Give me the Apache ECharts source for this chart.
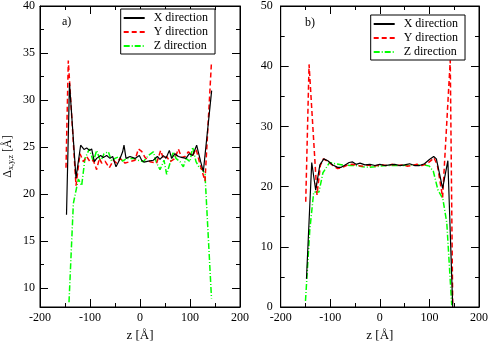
<!DOCTYPE html>
<html>
<head>
<meta charset="utf-8">
<script src="https://cdn.jsdelivr.net/npm/echarts@6/dist/echarts.min.js"></script>
<style>
html,body{margin:0;padding:0;background:#fff;}
#chart{width:491px;height:347px;}
</style>
</head>
<body>
<div id="chart"></div>
<script>
// ---------- data ----------
var seriesNames = ['X direction', 'Y direction', 'Z direction'];
var panelLabels = ['a)', 'b)'];
var xTicks = [-200, -100, 0, 100, 200];
var yTicksA = [10, 15, 20, 25, 30, 35, 40];
var yMinorA = [12.5, 17.5, 22.5, 27.5, 32.5, 37.5];

// panel a
var xDirA_z = [-147, -141, -128, -118.7, -112, -106.7, -101, -96.7, -91.3, -86.7, -78.7, -73.3, -66.7, -60, -54.7, -48, -41.3, -34.7, -32, -28, -20, -10, -1.3, 3.3, 8, 16.7, 26.7, 34.7, 40, 46.7, 52, 58.7, 63.3, 70, 76.7, 83.3, 92, 98.7, 105.3, 113.3, 121.3, 126.7, 143.3];
var xDirA_v = [17.8, 31.8, 21.7, 25.2, 24.75, 24.9, 24.65, 24.8, 23.45, 23.8, 24.1, 23.9, 24.1, 23.8, 24.0, 22.9, 23.6, 24.5, 25.2, 23.8, 24.0, 23.8, 24.1, 23.6, 23.4, 23.5, 23.6, 24.0, 23.7, 24.1, 23.8, 24.65, 23.8, 24.3, 24.0, 23.9, 23.8, 24.3, 24.1, 25.2, 23.45, 22.4, 31.0];
var yDirA_z = [-148, -143.4, -128, -120, -113.3, -106.7, -100, -93.3, -86.7, -81.3, -76.7, -70, -61.3, -53.3, -46.7, -40, -30, -20, -10, -3.3, 3.3, 10, 20, 33.3, 41.3, 46.7, 53.3, 60, 70, 76.7, 83.3, 90, 96.7, 105.3, 112, 118.7, 130, 143];
var yDirA_v = [22.8, 34.2, 20.9, 24.3, 23.45, 24.0, 23.45, 23.6, 22.6, 23.8, 23.3, 23.5, 22.8, 23.6, 23.3, 23.8, 23.3, 23.45, 23.6, 24.8, 24.55, 23.9, 23.45, 23.3, 24.65, 23.8, 24.0, 23.45, 23.8, 24.8, 23.9, 24.0, 24.5, 24.1, 24.8, 23.45, 21.4, 34.1];
var zDirA_z = [-142, -133.3, -123.3, -116.7, -110, -101.3, -93.3, -86.7, -78.7, -72, -63.3, -56.7, -50, -41.3, -34.7, -26.7, -13.3, -3.3, 6.7, 16.7, 26.7, 33.3, 40, 48, 53.3, 60, 66.7, 72, 80, 86.7, 92, 100, 105.3, 112, 118.7, 125.3, 130, 143];
var zDirA_v = [8.5, 19.0, 21.6, 20.9, 23.8, 24.8, 23.45, 24.65, 23.45, 24.3, 24.5, 23.5, 23.8, 24.0, 23.5, 23.8, 23.8, 23.6, 23.45, 24.1, 24.5, 23.3, 22.6, 23.6, 22.1, 23.3, 24.5, 23.8, 23.45, 22.9, 23.8, 23.45, 25.0, 23.45, 22.8, 22.6, 22.1, 8.9];

// panel b
var xDirB_z = [-148, -137.4, -129.4, -121, -113, -105, -95, -85, -78, -70, -62, -55, -48, -40, -30, -20, -10, 0, 10, 20, 30, 40, 50, 60, 70, 80, 90, 100, 108.6, 114, 120, 126.6, 137.2, 147];
var xDirB_v = [4.7, 24.0, 19.4, 23.6, 24.6, 24.3, 23.6, 23.2, 23.2, 23.6, 24.0, 24.1, 23.7, 23.9, 23.6, 23.7, 23.5, 23.7, 23.5, 23.6, 23.7, 23.5, 23.6, 23.8, 23.5, 23.5, 23.8, 24.5, 25.0, 24.6, 22.3, 19.7, 24.3, 0.0];
var yDirB_z = [-149.5, -142.8, -126.8, -120, -114, -105, -95, -85, -75, -65, -55, -45, -35, -25, -15, -5, 5, 15, 25, 35, 45, 55, 65, 75, 85, 95, 103, 109, 116, 126.6, 142, 147];
var yDirB_v = [17.5, 40.3, 18.6, 23.5, 24.6, 24.2, 23.5, 23.0, 23.2, 23.6, 23.7, 23.5, 23.4, 23.6, 23.4, 23.5, 23.6, 23.5, 23.7, 23.5, 23.6, 23.4, 23.5, 23.7, 23.5, 23.8, 24.3, 24.8, 23.6, 18.2, 41.0, 0.0];
var zDirB_z = [-150, -141.4, -133.4, -122.8, -114.8, -101.4, -90, -75, -60, -48, -35, -21.4, -10, 0, 15, 30, 45, 60, 75, 90, 100, 108, 117, 127, 135, 145];
var zDirB_v = [1.0, 12.7, 19.1, 19.1, 22.3, 24.0, 23.8, 23.6, 23.5, 23.5, 23.3, 23.2, 23.3, 23.4, 23.5, 23.5, 23.5, 23.6, 23.6, 23.6, 23.4, 22.5, 19.5, 18.0, 14.0, 0.3];

// ---------- chart ----------
function pairs(zs, vs) { return zs.map(function (z, i) { return [z, vs[i]]; }); }
var FONT = 'Liberation Serif';
var colors = ['#000000', '#ff0000', '#00ff00'];
var lineTypes = ['solid', [5, 3], [6, 2, 1, 2]];
var widths = [1.2, 1.5, 1.5];

var grids = [
  { left: 40, top: 6, width: 200, height: 309 },
  { left: 280.7, top: 6, width: 200, height: 309 }
];
grids.forEach(function (g) { g.show = true; g.borderColor = '#000'; g.borderWidth = 1; g.backgroundColor = 'transparent'; });

function xAx(gi, top) {
  return {
    type: 'value', gridIndex: gi, position: top ? 'top' : 'bottom',
    min: xTicks[0], max: xTicks[xTicks.length - 1], interval: 100,
    axisLine: { show: true, onZero: false, lineStyle: { color: '#000', width: 1 } },
    axisTick: { show: true, inside: true, length: 8, lineStyle: { color: '#000' } },
    minorTick: { show: true, splitNumber: 2, length: 4, lineStyle: { color: '#000' } },
    axisLabel: { show: !top, margin: 5, color: '#000', fontFamily: FONT, fontSize: 12 },
    splitLine: { show: false },
    name: top ? '' : 'z [Å]', nameLocation: 'middle', nameGap: 22,
    nameTextStyle: { color: '#000', fontFamily: FONT, fontSize: 13 }
  };
}
function yAxA(right, minor) {
  return {
    type: 'value', gridIndex: 0, position: right ? 'right' : 'left',
    min: 8, max: 40,
    axisLine: { show: !minor, onZero: false, lineStyle: { color: '#000', width: 1 } },
    axisTick: { show: true, inside: true, length: minor ? 4 : 8, customValues: minor ? yMinorA : yTicksA, lineStyle: { color: '#000' } },
    axisLabel: { show: !right && !minor, customValues: yTicksA, margin: 5, color: '#000', fontFamily: FONT, fontSize: 12 },
    splitLine: { show: false },
    name: (!right && !minor) ? '{a|Δ}{s|x,y,z}{a| [Å]}' : '',
    nameLocation: 'middle', nameRotate: 90, nameGap: 25,
    nameTextStyle: {
      rich: {
        a: { fontFamily: FONT, fontSize: 12, color: '#000' },
        s: { fontFamily: FONT, fontSize: 8, color: '#000', padding: [6, 0, 0, 0] }
      }
    }
  };
}
function yAxB(right) {
  return {
    type: 'value', gridIndex: 1, position: right ? 'right' : 'left',
    min: 0, max: 50, interval: 10,
    axisLine: { show: true, onZero: false, lineStyle: { color: '#000', width: 1 } },
    axisTick: { show: true, inside: true, length: 8, lineStyle: { color: '#000' } },
    minorTick: { show: true, splitNumber: 2, length: 4, lineStyle: { color: '#000' } },
    axisLabel: { show: !right, margin: 8, color: '#000', fontFamily: FONT, fontSize: 12 },
    splitLine: { show: false }
  };
}

var dataSets = [
  [pairs(xDirA_z, xDirA_v), pairs(yDirA_z, yDirA_v), pairs(zDirA_z, zDirA_v)],
  [pairs(xDirB_z, xDirB_v), pairs(yDirB_z, yDirB_v), pairs(zDirB_z, zDirB_v)]
];
var series = [];
var yIdx = [0, 4];
var xIdx = [0, 2];
[0, 1].forEach(function (p) {
  [0, 1, 2].forEach(function (k) {
    series.push({
      type: 'line', name: seriesNames[k],
      xAxisIndex: xIdx[p], yAxisIndex: yIdx[p],
      data: dataSets[p][k],
      symbol: 'none', showSymbol: false, silent: true,
      lineStyle: { color: colors[k], width: widths[k], type: lineTypes[k] },
      itemStyle: { color: colors[k] },
      z: 3 - k
    });
  });
});

function legendAt(left, top) {
  return {
    left: left, top: top, orient: 'vertical', data: seriesNames,
    backgroundColor: '#fff', borderColor: '#000', borderWidth: 1, borderRadius: 0,
    padding: [3, 7, 2, 2], itemWidth: 21, itemHeight: 10, itemGap: 2,
    selectedMode: false,
    itemStyle: { opacity: 0 },
    textStyle: { color: '#000', fontFamily: FONT, fontSize: 12, padding: [0, 0, 0, 4], lineHeight: 12 }
  };
}

var chart = echarts.init(document.getElementById('chart'), null, { renderer: 'canvas' });
chart.setOption({
  animation: false,
  backgroundColor: '#fff',
  title: [
    { text: panelLabels[0], left: 62, top: 16, textStyle: { fontFamily: FONT, fontSize: 12, fontWeight: 'normal', color: '#000' }, padding: 0 },
    { text: panelLabels[1], left: 305, top: 17, textStyle: { fontFamily: FONT, fontSize: 12, fontWeight: 'normal', color: '#000' }, padding: 0 }
  ],
  grid: grids,
  legend: [legendAt(120.7, 9), legendAt(370.7, 15)],
  xAxis: [xAx(0, false), xAx(0, true), xAx(1, false), xAx(1, true)],
  yAxis: [yAxA(false, false), yAxA(false, true), yAxA(true, false), yAxA(true, true), yAxB(false), yAxB(true)],
  series: series
});
</script>
</body>
</html>
